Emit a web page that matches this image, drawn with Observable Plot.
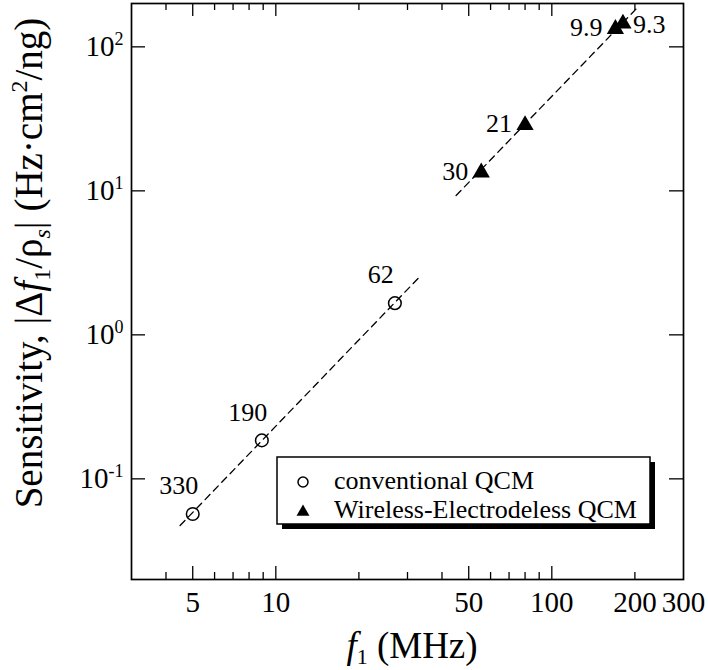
<!DOCTYPE html>
<html>
<head>
<meta charset="utf-8">
<script src="https://cdn.jsdelivr.net/npm/d3@7"></script>
<script src="https://cdn.jsdelivr.net/npm/@observablehq/plot@0.6"></script>
<style>
  html, body { margin: 0; padding: 0; background: #fff; }
  svg { display: block; }
</style>
</head>
<body>
<div id="chart"></div>
<script>
// ---- data ----
const convF = [5.0, 8.9, 27];            // MHz
const convS = [0.057, 0.185, 1.66];      // Hz·cm²/ng
const convLabel = ["330", "190", "62"];

const wireF = [55.5, 80, 170, 181];
const wireS = [13.4, 28.6, 133, 145];
const wireLabel = ["30", "21", "9.9", "9.3"];

const convFitF = [4.5, 33];
const convFitS = [0.0474, 2.50];
const wireFitF = [45, 203];
const wireFitS = [9.28, 185];

const seriesNames = ["conventional QCM", "Wireless-Electrodeless QCM"];

const xTickLabels = [5, 10, 50, 100, 200, 300];
const xTicksMajor = [5, 10, 50, 100];
const xTicksMinor = [4, 6, 7, 8, 9, 20, 30, 40, 60, 70, 80, 90, 200];
const yTicksMajor = [0.1, 1, 10, 100];

// ---- tables ----
const conv = convF.map((f, i) => ({f, s: convS[i], label: convLabel[i]}));
const wire = wireF.map((f, i) => ({f, s: wireS[i], label: wireLabel[i]}));
const convFit = convFitF.map((f, i) => ({f, s: convFitS[i]}));
const wireFit = wireFitF.map((f, i) => ({f, s: wireFitS[i]}));

const W = 708, H = 670;
const mT = 3, mB = 91, mL = 131, mR = 25;
const iW = W - mL - mR, iH = H - mT - mB;
const FONT = "Liberation Serif, Times New Roman, serif";

const chart = Plot.plot({
  width: W, height: H,
  marginTop: mT, marginBottom: mB, marginLeft: mL, marginRight: mR,
  style: {fontFamily: FONT, background: "white", color: "black"},
  x: {type: "log", domain: [3, 300], label: null},
  y: {type: "log", domain: [0.02, 200], label: null},
  marks: [
    // ticks (inward, all four sides)
    Plot.tickX(xTicksMajor, {x: d => d, insetTop: iH - 13, stroke: "black", strokeWidth: 1.3}),
    Plot.tickX(xTicksMajor, {x: d => d, insetBottom: iH - 13, stroke: "black", strokeWidth: 1.3}),
    Plot.tickX(xTicksMinor, {x: d => d, insetTop: iH - 7, stroke: "black", strokeWidth: 1.3}),
    Plot.tickX(xTicksMinor, {x: d => d, insetBottom: iH - 7, stroke: "black", strokeWidth: 1.3}),
    Plot.tickY(yTicksMajor, {y: d => d, insetRight: iW - 14, stroke: "black", strokeWidth: 1.3}),
    Plot.tickY(yTicksMajor, {y: d => d, insetLeft: iW - 14, stroke: "black", strokeWidth: 1.3}),
    // fit lines
    Plot.line(convFit, {x: "f", y: "s", stroke: "black", strokeWidth: 1.3, strokeDasharray: "7,5"}),
    Plot.line(wireFit, {x: "f", y: "s", stroke: "black", strokeWidth: 1.3, strokeDasharray: "7,5"}),
    // points
    Plot.dot(conv, {x: "f", y: "s", r: 6.3, stroke: "black", strokeWidth: 1.5, fill: "none"}),
    Plot.dot(wire, {x: "f", y: "s", symbol: "triangle", r: 6.4, fill: "black", stroke: "none"}),
    // point labels
    Plot.text(conv, {x: "f", y: "s", text: "label", dx: -14, dy: -28, fontSize: 26, fontFamily: FONT, fill: "black"}),
    Plot.text(wire.slice(0, -1), {x: "f", y: "s", text: "label", dx: -13, dy: -1, textAnchor: "end", fontSize: 26, fontFamily: FONT, fill: "black"}),
    Plot.text(wire.slice(-1), {x: "f", y: "s", text: "label", dx: 10, dy: 1, textAnchor: "start", fontSize: 26, fontFamily: FONT, fill: "black"}),
    // axes
    Plot.axisX({ticks: xTickLabels, tickSize: 0, tickPadding: 12, tickFormat: d => String(d), fontSize: 29, fontFamily: FONT, label: null}),
    Plot.axisY({ticks: yTicksMajor, tickSize: 0, tickPadding: 8, tickFormat: d => "10^" + Math.round(Math.log10(d)), fontSize: 29, fontFamily: FONT, label: null}),
    Plot.frame({stroke: "black", strokeWidth: 1.7})
  ]
});

document.getElementById("chart").appendChild(chart);
const svg = d3.select(chart)
  .attr("font-family", FONT)
  .style("font-family", FONT);
svg.selectAll("text").attr("font-family", FONT);

// superscripts on y tick labels
svg.selectAll('g[aria-label="y-axis tick label"] text').each(function () {
  const t = d3.select(this);
  const s = t.text();
  if (!s.includes("^")) return;
  const [base, exp] = s.split("^");
  t.text(null);
  t.append("tspan").text(base);
  t.append("tspan").attr("font-size", 18).attr("dy", -11).text(exp);
});

// y-axis title
const yt = svg.append("text")
  .attr("transform", "translate(42,263) rotate(-90)")
  .attr("text-anchor", "middle")
  .attr("font-family", FONT)
  .attr("font-size", 39)
  .attr("fill", "black");
yt.append("tspan").text("Sensitivity, |Δ");
yt.append("tspan").attr("font-style", "italic").text("f");
yt.append("tspan").attr("font-size", 24).attr("dy", 8).text("1");
yt.append("tspan").attr("dy", -8).text("/ρ");
yt.append("tspan").attr("font-size", 24).attr("font-style", "italic").attr("dy", 8).text("s");
yt.append("tspan").attr("dy", -8).text("| (Hz·cm");
yt.append("tspan").attr("font-size", 24).attr("dy", -15).text("2");
yt.append("tspan").attr("dy", 15).text("/ng)");

// x-axis title
const xt = svg.append("text")
  .attr("x", 412).attr("y", 658)
  .attr("text-anchor", "middle")
  .attr("font-family", FONT)
  .attr("font-size", 37)
  .attr("fill", "black");
xt.append("tspan").attr("font-style", "italic").text("f");
xt.append("tspan").attr("font-size", 22).attr("dy", 6).text("1");
xt.append("tspan").attr("dy", -6).text(" (MHz)");

// legend (inside the plot, with drop shadow)
const lg = svg.append("g").attr("font-family", FONT).attr("text-anchor", "start");
const bx = 277, by = 457, bw = 373, bh = 67;
lg.append("rect").attr("x", bx + 5).attr("y", by + 5).attr("width", bw).attr("height", bh).attr("fill", "black");
lg.append("rect").attr("x", bx).attr("y", by).attr("width", bw).attr("height", bh)
  .attr("fill", "white").attr("stroke", "black").attr("stroke-width", 1.5);
seriesNames.forEach((name, i) => {
  const cy = by + 25 + i * 29;
  if (i === 0) {
    lg.append("circle").attr("cx", bx + 26).attr("cy", cy).attr("r", 5)
      .attr("fill", "none").attr("stroke", "black").attr("stroke-width", 1.5);
  } else {
    lg.append("path").attr("transform", `translate(${bx + 26},${cy + 1})`)
      .attr("d", d3.symbol(d3.symbolTriangle, Math.PI * 4.8 * 4.8)()).attr("fill", "black");
  }
  lg.append("text").attr("x", bx + 57).attr("y", cy + 6.5)
    .attr("text-anchor", "start")
    .attr("font-size", 26).attr("fill", "black").text(name);
});
</script>
</body>
</html>
